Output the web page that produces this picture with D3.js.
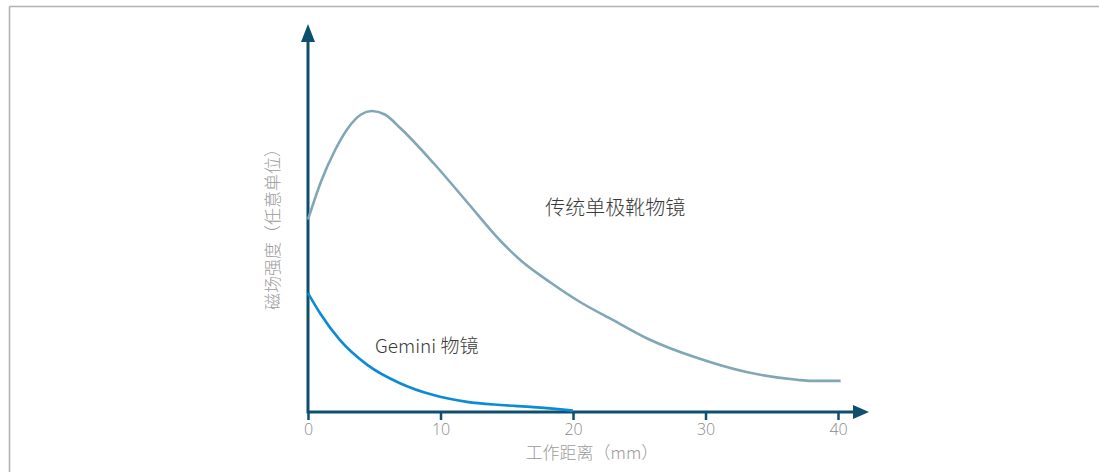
<!DOCTYPE html>
<html>
<head>
<meta charset="utf-8">
<script src="https://cdn.jsdelivr.net/npm/d3@7"></script>
<style>
  body { margin: 0; background: #fff; }
  text { font-family: "Noto Sans CJK SC", "Noto Sans", sans-serif; }
</style>
</head>
<body>
<svg id="chart"></svg>
<script>
// Data (x in mm, y in arbitrary units 0-100)
const xTicks = [0, 10, 20, 30, 40];

const conventional = [
    [0, 55], [1, 66], [2, 74.5], [3, 81], [4, 85], [4.8, 86], [5.8, 85],
    [7, 81], [9.5, 71], [12, 60], [14.5, 49], [16, 43.5], [18.3, 37],
    [20.5, 31.5], [23, 26.3], [25.6, 21], [29.4, 15.4], [33.1, 11.4],
    [36.9, 9.2], [38, 8.9], [40.2, 8.9]
];

const gemini = [
    [0, 34], [0.9, 28.3], [2.4, 20.6], [4.5, 13.4], [6.9, 8.3], [9.4, 4.9],
    [12, 2.9], [14.5, 2], [17, 1.4], [20, 0.4]
];

const seriesLabels = ["传统单极靴物镜", "Gemini 物镜"];
const xTitle = "工作距离（mm）";
const yTitle = "磁场强度（任意单位）";

const width = 1099, height = 472;
const axisColor = "#0e4f6e";

const svg = d3.select("#chart")
    .attr("width", width)
    .attr("height", height);

// open frame: top and left grey lines
svg.append("line").attr("x1", 9.5).attr("x2", width).attr("y1", 6.5).attr("y2", 6.5)
    .attr("stroke", "#b0b0b0").attr("stroke-width", 1.5);
svg.append("line").attr("x1", 9.5).attr("x2", 9.5).attr("y1", 6.5).attr("y2", height)
    .attr("stroke", "#b0b0b0").attr("stroke-width", 1.5);

const x = d3.scaleLinear().domain([0, 40]).range([308, 838]);
const y = d3.scaleLinear().domain([0, 100]).range([412, 62]);

// x ticks
const xAxis = svg.append("g")
    .attr("transform", `translate(0,${y(0)})`)
    .call(d3.axisBottom(x).tickValues(xTicks).tickSize(8).tickPadding(4));
xAxis.select(".domain").remove();
xAxis.selectAll(".tick line").attr("stroke", axisColor).attr("stroke-width", 2.5);
xAxis.selectAll(".tick text")
    .attr("fill", "#8a8a8a")
    .style("font-size", "16px")
    .style("font-weight", 300)
    .style("font-family", "'Open Sans', 'Noto Sans', sans-serif");

// axis lines with arrow heads
svg.append("line")
    .attr("x1", x(0)).attr("x2", 855)
    .attr("y1", y(0)).attr("y2", y(0))
    .attr("stroke", axisColor).attr("stroke-width", 3);
svg.append("path")
    .attr("d", `M853,${y(0) - 7}L869,${y(0)}L853,${y(0) + 7}Z`)
    .attr("fill", axisColor);

svg.append("line")
    .attr("x1", x(0)).attr("x2", x(0))
    .attr("y1", y(0) + 1.5).attr("y2", 40)
    .attr("stroke", axisColor).attr("stroke-width", 3);
svg.append("path")
    .attr("d", `M${x(0) - 7},42L${x(0)},24L${x(0) + 7},42Z`)
    .attr("fill", axisColor);

// curves
const line = d3.line()
    .x(d => x(d[0]))
    .y(d => y(d[1]))
    .curve(d3.curveMonotoneX);

svg.append("path")
    .datum(conventional)
    .attr("d", line)
    .attr("fill", "none")
    .attr("stroke", "#80a6b7")
    .attr("stroke-width", 2.6);

svg.append("path")
    .datum(gemini)
    .attr("d", line)
    .attr("fill", "none")
    .attr("stroke", "#0b8bd3")
    .attr("stroke-width", 2.6);

// series labels
svg.append("text")
    .attr("x", x(17.9)).attr("y", y(56.3))
    .attr("fill", "#3a3a3a")
    .style("font-size", "20px")
    .style("font-weight", 300)
    .text(seriesLabels[0]);

svg.append("text")
    .attr("x", x(5.06)).attr("y", y(16.9))
    .attr("fill", "#3a3a3a")
    .style("font-size", "19px")
    .style("font-weight", 300)
    .text(seriesLabels[1]);

// axis titles
svg.append("text")
    .attr("x", x(20) + 19).attr("y", 459)
    .attr("text-anchor", "middle")
    .attr("fill", "#9a9a9a")
    .style("font-size", "17px")
    .style("font-weight", 300)
    .text(xTitle);

svg.append("text")
    .attr("transform", "translate(279,225) rotate(-90)")
    .attr("text-anchor", "middle")
    .attr("fill", "#9a9a9a")
    .style("font-size", "17px")
    .style("font-weight", 300)
    .text(yTitle);
</script>
</body>
</html>
